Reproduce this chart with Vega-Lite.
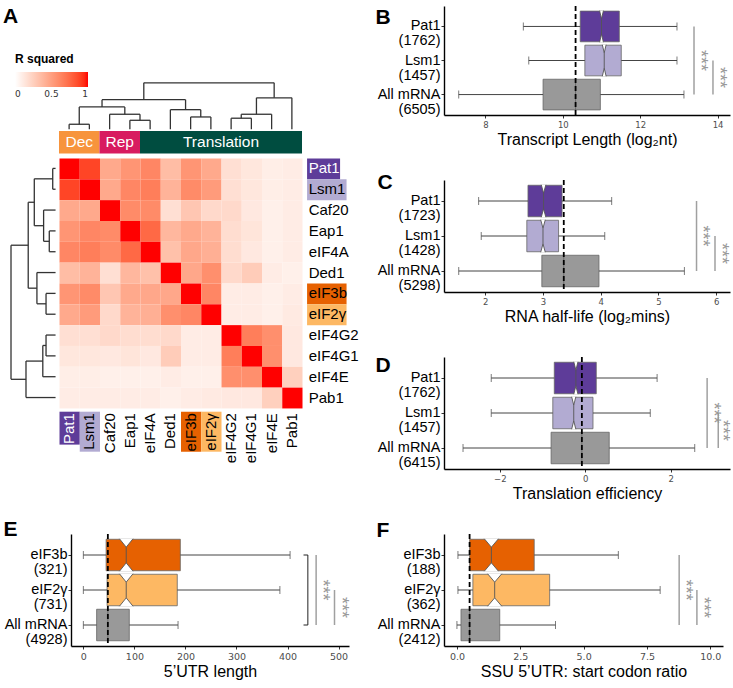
{
"$schema": "https://vega.github.io/schema/vega-lite/v6.json",
"padding": {"left": 2, "top": 5, "right": 3, "bottom": 0},
"config": {
  "font": "Liberation Sans",
  "view": {"stroke": null},
  "axis": {"grid": false, "domainColor": "#000000", "domainWidth": 1.4, "tickColor": "#333333", "tickSize": 3, "tickWidth": 1, "titleFont": "Liberation Sans", "titleFontWeight": "normal", "titleColor": "#000000"},
  "axisX": {"labelFont": "DejaVu Sans", "labelFontSize": 8.5, "labelColor": "#4D4D4D", "titleFontSize": 16, "titlePadding": 3, "labelPadding": 2},
  "axisY": {"labelFont": "Liberation Sans", "labelFontSize": 14.5, "labelColor": "#000000", "labelLineHeight": 15, "labelPadding": 1, "titleFontSize": 21, "titleFontWeight": "bold", "titleAngle": 0, "titleAlign": "left", "titleBaseline": "top"}
},
"datasets": {
  "heat": [
    {"r":0,"c":0,"v":1},{"r":0,"c":1,"v":0.88},{"r":0,"c":2,"v":0.45},{"r":0,"c":3,"v":0.55},{"r":0,"c":4,"v":0.62},{"r":0,"c":5,"v":0.35},{"r":0,"c":6,"v":0.55},{"r":0,"c":7,"v":0.45},{"r":0,"c":8,"v":0.17},{"r":0,"c":9,"v":0.13},{"r":0,"c":10,"v":0.09},{"r":0,"c":11,"v":0.1},
    {"r":1,"c":0,"v":0.88},{"r":1,"c":1,"v":1},{"r":1,"c":2,"v":0.45},{"r":1,"c":3,"v":0.62},{"r":1,"c":4,"v":0.66},{"r":1,"c":5,"v":0.4},{"r":1,"c":6,"v":0.6},{"r":1,"c":7,"v":0.52},{"r":1,"c":8,"v":0.17},{"r":1,"c":9,"v":0.13},{"r":1,"c":10,"v":0.09},{"r":1,"c":11,"v":0.1},
    {"r":2,"c":0,"v":0.45},{"r":2,"c":1,"v":0.45},{"r":2,"c":2,"v":1},{"r":2,"c":3,"v":0.6},{"r":2,"c":4,"v":0.6},{"r":2,"c":5,"v":0.17},{"r":2,"c":6,"v":0.3},{"r":2,"c":7,"v":0.2},{"r":2,"c":8,"v":0.2},{"r":2,"c":9,"v":0.12},{"r":2,"c":10,"v":0.08},{"r":2,"c":11,"v":0.1},
    {"r":3,"c":0,"v":0.55},{"r":3,"c":1,"v":0.62},{"r":3,"c":2,"v":0.6},{"r":3,"c":3,"v":1},{"r":3,"c":4,"v":0.75},{"r":3,"c":5,"v":0.38},{"r":3,"c":6,"v":0.45},{"r":3,"c":7,"v":0.4},{"r":3,"c":8,"v":0.18},{"r":3,"c":9,"v":0.14},{"r":3,"c":10,"v":0.08},{"r":3,"c":11,"v":0.1},
    {"r":4,"c":0,"v":0.62},{"r":4,"c":1,"v":0.66},{"r":4,"c":2,"v":0.6},{"r":4,"c":3,"v":0.75},{"r":4,"c":4,"v":1},{"r":4,"c":5,"v":0.33},{"r":4,"c":6,"v":0.46},{"r":4,"c":7,"v":0.42},{"r":4,"c":8,"v":0.18},{"r":4,"c":9,"v":0.12},{"r":4,"c":10,"v":0.08},{"r":4,"c":11,"v":0.1},
    {"r":5,"c":0,"v":0.35},{"r":5,"c":1,"v":0.4},{"r":5,"c":2,"v":0.17},{"r":5,"c":3,"v":0.38},{"r":5,"c":4,"v":0.33},{"r":5,"c":5,"v":1},{"r":5,"c":6,"v":0.46},{"r":5,"c":7,"v":0.58},{"r":5,"c":8,"v":0.2},{"r":5,"c":9,"v":0.27},{"r":5,"c":10,"v":0.1},{"r":5,"c":11,"v":0.08},
    {"r":6,"c":0,"v":0.55},{"r":6,"c":1,"v":0.6},{"r":6,"c":2,"v":0.3},{"r":6,"c":3,"v":0.45},{"r":6,"c":4,"v":0.46},{"r":6,"c":5,"v":0.46},{"r":6,"c":6,"v":1},{"r":6,"c":7,"v":0.62},{"r":6,"c":8,"v":0.1},{"r":6,"c":9,"v":0.1},{"r":6,"c":10,"v":0.08},{"r":6,"c":11,"v":0.1},
    {"r":7,"c":0,"v":0.45},{"r":7,"c":1,"v":0.52},{"r":7,"c":2,"v":0.2},{"r":7,"c":3,"v":0.4},{"r":7,"c":4,"v":0.42},{"r":7,"c":5,"v":0.58},{"r":7,"c":6,"v":0.62},{"r":7,"c":7,"v":1},{"r":7,"c":8,"v":0.1},{"r":7,"c":9,"v":0.1},{"r":7,"c":10,"v":0.08},{"r":7,"c":11,"v":0.11},
    {"r":8,"c":0,"v":0.17},{"r":8,"c":1,"v":0.17},{"r":8,"c":2,"v":0.2},{"r":8,"c":3,"v":0.18},{"r":8,"c":4,"v":0.18},{"r":8,"c":5,"v":0.2},{"r":8,"c":6,"v":0.1},{"r":8,"c":7,"v":0.1},{"r":8,"c":8,"v":1},{"r":8,"c":9,"v":0.66},{"r":8,"c":10,"v":0.58},{"r":8,"c":11,"v":0.12},
    {"r":9,"c":0,"v":0.13},{"r":9,"c":1,"v":0.13},{"r":9,"c":2,"v":0.12},{"r":9,"c":3,"v":0.14},{"r":9,"c":4,"v":0.12},{"r":9,"c":5,"v":0.27},{"r":9,"c":6,"v":0.1},{"r":9,"c":7,"v":0.1},{"r":9,"c":8,"v":0.66},{"r":9,"c":9,"v":1},{"r":9,"c":10,"v":0.58},{"r":9,"c":11,"v":0.12},
    {"r":10,"c":0,"v":0.09},{"r":10,"c":1,"v":0.09},{"r":10,"c":2,"v":0.08},{"r":10,"c":3,"v":0.08},{"r":10,"c":4,"v":0.08},{"r":10,"c":5,"v":0.1},{"r":10,"c":6,"v":0.08},{"r":10,"c":7,"v":0.08},{"r":10,"c":8,"v":0.58},{"r":10,"c":9,"v":0.58},{"r":10,"c":10,"v":1},{"r":10,"c":11,"v":0.25},
    {"r":11,"c":0,"v":0.1},{"r":11,"c":1,"v":0.1},{"r":11,"c":2,"v":0.1},{"r":11,"c":3,"v":0.1},{"r":11,"c":4,"v":0.1},{"r":11,"c":5,"v":0.08},{"r":11,"c":6,"v":0.1},{"r":11,"c":7,"v":0.11},{"r":11,"c":8,"v":0.12},{"r":11,"c":9,"v":0.12},{"r":11,"c":10,"v":0.25},{"r":11,"c":11,"v":1}
  ],
  "labs": [
    {"name":"Pat1","i":0,"pos":0.5},{"name":"Lsm1","i":1,"pos":1.5},{"name":"Caf20","i":2,"pos":2.5},{"name":"Eap1","i":3,"pos":3.5},{"name":"eIF4A","i":4,"pos":4.5},{"name":"Ded1","i":5,"pos":5.5},{"name":"eIF3b","i":6,"pos":6.5},{"name":"eIF2γ","i":7,"pos":7.5},{"name":"eIF4G2","i":8,"pos":8.5},{"name":"eIF4G1","i":9,"pos":9.5},{"name":"eIF4E","i":10,"pos":10.5},{"name":"Pab1","i":11,"pos":11.5}
  ],
  "annot": [
    {"name":"Dec","start":0,"end":2,"mid":1},{"name":"Rep","start":2,"end":4,"mid":3},{"name":"Translation","start":4,"end":12,"mid":8}
  ],
  "dendro": [
    {"x":-0.31,"x2":-0.31,"y":0.5,"y2":1.5},{"x":-0.17,"x2":-0.31,"y":0.5,"y2":0.5},{"x":-0.17,"x2":-0.31,"y":1.5,"y2":1.5},
    {"x":-0.48,"x2":-0.48,"y":3.5,"y2":4.5},{"x":-0.17,"x2":-0.48,"y":3.5,"y2":3.5},{"x":-0.17,"x2":-0.48,"y":4.5,"y2":4.5},
    {"x":-0.76,"x2":-0.76,"y":2.5,"y2":4.0},{"x":-0.17,"x2":-0.76,"y":2.5,"y2":2.5},{"x":-0.48,"x2":-0.76,"y":4.0,"y2":4.0},
    {"x":-1.22,"x2":-1.22,"y":1.0,"y2":3.25},{"x":-0.31,"x2":-1.22,"y":1.0,"y2":1.0},{"x":-0.76,"x2":-1.22,"y":3.25,"y2":3.25},
    {"x":-0.64,"x2":-0.64,"y":6.5,"y2":7.5},{"x":-0.17,"x2":-0.64,"y":6.5,"y2":6.5},{"x":-0.17,"x2":-0.64,"y":7.5,"y2":7.5},
    {"x":-1.09,"x2":-1.09,"y":5.5,"y2":7.0},{"x":-0.17,"x2":-1.09,"y":5.5,"y2":5.5},{"x":-0.64,"x2":-1.09,"y":7.0,"y2":7.0},
    {"x":-1.52,"x2":-1.52,"y":2.125,"y2":6.25},{"x":-1.22,"x2":-1.52,"y":2.125,"y2":2.125},{"x":-1.09,"x2":-1.52,"y":6.25,"y2":6.25},
    {"x":-0.64,"x2":-0.64,"y":8.5,"y2":9.5},{"x":-0.17,"x2":-0.64,"y":8.5,"y2":8.5},{"x":-0.17,"x2":-0.64,"y":9.5,"y2":9.5},
    {"x":-0.8,"x2":-0.8,"y":9.0,"y2":10.5},{"x":-0.64,"x2":-0.8,"y":9.0,"y2":9.0},{"x":-0.17,"x2":-0.8,"y":10.5,"y2":10.5},
    {"x":-1.63,"x2":-1.63,"y":9.75,"y2":11.5},{"x":-0.8,"x2":-1.63,"y":9.75,"y2":9.75},{"x":-0.17,"x2":-1.63,"y":11.5,"y2":11.5},
    {"x":-2.37,"x2":-2.37,"y":4.1875,"y2":10.625},{"x":-1.52,"x2":-2.37,"y":4.1875,"y2":4.1875},{"x":-1.63,"x2":-2.37,"y":10.625,"y2":10.625},
    {"x":0.5,"x2":1.5,"y":-1.62,"y2":-1.62},{"x":0.5,"x2":0.5,"y":-1.38,"y2":-1.62},{"x":1.5,"x2":1.5,"y":-1.38,"y2":-1.62},
    {"x":3.5,"x2":4.5,"y":-1.81,"y2":-1.81},{"x":3.5,"x2":3.5,"y":-1.38,"y2":-1.81},{"x":4.5,"x2":4.5,"y":-1.38,"y2":-1.81},
    {"x":2.5,"x2":4.0,"y":-2.1,"y2":-2.1},{"x":2.5,"x2":2.5,"y":-1.38,"y2":-2.1},{"x":4.0,"x2":4.0,"y":-1.81,"y2":-2.1},
    {"x":1.0,"x2":3.25,"y":-2.45,"y2":-2.45},{"x":1.0,"x2":1.0,"y":-1.62,"y2":-2.45},{"x":3.25,"x2":3.25,"y":-2.1,"y2":-2.45},
    {"x":6.5,"x2":7.5,"y":-1.97,"y2":-1.97},{"x":6.5,"x2":6.5,"y":-1.38,"y2":-1.97},{"x":7.5,"x2":7.5,"y":-1.38,"y2":-1.97},
    {"x":5.5,"x2":7.0,"y":-2.32,"y2":-2.32},{"x":5.5,"x2":5.5,"y":-1.38,"y2":-2.32},{"x":7.0,"x2":7.0,"y":-1.97,"y2":-2.32},
    {"x":2.125,"x2":6.25,"y":-2.8,"y2":-2.8},{"x":2.125,"x2":2.125,"y":-2.45,"y2":-2.8},{"x":6.25,"x2":6.25,"y":-2.32,"y2":-2.8},
    {"x":8.5,"x2":9.5,"y":-1.91,"y2":-1.91},{"x":8.5,"x2":8.5,"y":-1.38,"y2":-1.91},{"x":9.5,"x2":9.5,"y":-1.38,"y2":-1.91},
    {"x":9.0,"x2":10.5,"y":-2.1,"y2":-2.1},{"x":9.0,"x2":9.0,"y":-1.91,"y2":-2.1},{"x":10.5,"x2":10.5,"y":-1.38,"y2":-2.1},
    {"x":9.75,"x2":11.5,"y":-2.89,"y2":-2.89},{"x":9.75,"x2":9.75,"y":-2.1,"y2":-2.89},{"x":11.5,"x2":11.5,"y":-1.38,"y2":-2.89},
    {"x":4.1875,"x2":10.625,"y":-3.61,"y2":-3.61},{"x":4.1875,"x2":4.1875,"y":-2.8,"y2":-3.61},{"x":10.625,"x2":10.625,"y":-2.89,"y2":-3.61}
  ],
  "statsB": [
    {"grp":"Pat1","wl":8.98,"q1":10.45,"m":11.0,"q3":11.46,"wh":12.95},
    {"grp":"Lsm1","wl":9.12,"q1":10.57,"m":11.07,"q3":11.51,"wh":12.95},
    {"grp":"All mRNA","wl":7.31,"q1":9.49,"m":10.33,"q3":10.97,"wh":13.13}
  ],
  "sigB": [{"from":"Pat1","to":"All mRNA","x":13.39},{"from":"Lsm1","to":"All mRNA","x":13.88}],
  "statsC": [
    {"grp":"Pat1","wl":1.885,"q1":2.74,"m":3.01,"q3":3.33,"wh":4.19},
    {"grp":"Lsm1","wl":1.93,"q1":2.72,"m":3.0,"q3":3.27,"wh":4.07},
    {"grp":"All mRNA","wl":1.54,"q1":2.98,"m":3.36,"q3":3.97,"wh":5.45}
  ],
  "sigC": [{"from":"Pat1","to":"All mRNA","x":5.66},{"from":"Lsm1","to":"All mRNA","x":5.98}],
  "statsD": [
    {"grp":"Pat1","wl":-2.2,"q1":-0.725,"m":-0.22,"q3":0.257,"wh":1.68},
    {"grp":"Lsm1","wl":-2.2,"q1":-0.76,"m":-0.27,"q3":0.18,"wh":1.52},
    {"grp":"All mRNA","wl":-2.86,"q1":-0.8,"m":-0.08,"q3":0.56,"wh":2.56}
  ],
  "sigD": [{"from":"Pat1","to":"All mRNA","x":2.85},{"from":"Lsm1","to":"All mRNA","x":3.11}],
  "statsE": [
    {"grp":"eIF3b","wl":0,"q1":44.6,"m":84,"q3":190,"wh":405},
    {"grp":"eIF2γ","wl":0,"q1":46.5,"m":84,"q3":184,"wh":385},
    {"grp":"All mRNA","wl":0,"q1":26,"m":48,"q3":90,"wh":185.5}
  ],
  "sigE": [{"from":"eIF3b","to":"All mRNA","x":456},{"from":"eIF2γ","to":"All mRNA","x":492}],
  "statsF": [
    {"grp":"eIF3b","wl":0.04,"q1":0.5,"m":1.36,"q3":3.05,"wh":6.37},
    {"grp":"eIF2γ","wl":0.04,"q1":0.63,"m":1.49,"q3":3.66,"wh":8.02},
    {"grp":"All mRNA","wl":0.0,"q1":0.16,"m":0.5,"q3":1.69,"wh":3.89}
  ],
  "sigF": [{"from":"eIF3b","to":"All mRNA","x":8.77},{"from":"eIF2γ","to":"All mRNA","x":9.47}]
},
"spacing": 16,
"bounds": "full",
"resolve": {"scale": {"color": "independent", "fill": "independent"}},
"hconcat": [
 {
  "resolve": {"scale": {"color": "independent", "fill": "independent"}},
  "vconcat": [
   {
    "width": 287, "height": 488,
    "layer": [
     {"data": {"name": "heat"}, "mark": {"type": "rect"},
      "encoding": {
       "x": {"field": "c", "type": "quantitative", "bin": {"binned": true, "step": 1}, "scale": {"domain": [0.5926, 14.765], "nice": false, "zero": false}, "axis": null},
       "y": {"field": "r", "type": "quantitative", "bin": {"binned": true, "step": 1}, "scale": {"domain": [-7.297, 16.131], "nice": false, "zero": false, "reverse": true}, "axis": null},
       "color": {"field": "v", "type": "quantitative", "scale": {"domain": [0, 1], "range": ["#FFFFFF", "#FF0000"], "interpolate": "lab"},
         "legend": {"title": "R squared", "orient": "none", "legendX": -56, "legendY": 48, "direction": "horizontal", "gradientLength": 73, "gradientThickness": 15, "gradientStrokeWidth": 0, "values": [0, 0.5, 1], "format": ".1~f", "titleFont": "Liberation Sans", "titleFontSize": 12, "titleFontWeight": "bold", "titleColor": "#000000", "titlePadding": 6, "labelFont": "DejaVu Sans", "labelFontSize": 9, "labelColor": "#333333", "labelOffset": 3}}
      }},
     {"data": {"name": "annot"}, "mark": {"type": "rect"},
      "encoding": {
       "x": {"field": "start", "type": "quantitative", "scale": {"domain": [0.5926, 14.765], "nice": false, "zero": false}, "axis": null},
       "x2": {"field": "end"},
       "y": {"datum": -1.3, "type": "quantitative", "scale": {"domain": [-7.297, 16.131], "nice": false, "zero": false, "reverse": true}, "axis": null},
       "y2": {"datum": -0.21},
       "fill": {"field": "name", "type": "nominal", "scale": {"domain": ["Dec","Rep","Translation","Pat1","Lsm1","eIF3b","eIF2γ"], "range": ["#F7943D","#D81B60","#004D40","#5E3C99","#B2ABD2","#E66101","#FDB863"]}, "legend": null}
      }},
     {"data": {"name": "annot"}, "mark": {"type": "text", "color": "#FFFFFF", "fontSize": 15.5, "align": "center", "baseline": "middle"},
      "encoding": {
       "x": {"field": "mid", "type": "quantitative", "scale": {"domain": [0.5926, 14.765], "nice": false, "zero": false}, "axis": null},
       "y": {"datum": -0.75, "type": "quantitative", "scale": {"domain": [-7.297, 16.131], "nice": false, "zero": false, "reverse": true}, "axis": null},
       "text": {"field": "name"}
      }},
     {"data": {"name": "dendro"}, "mark": {"type": "rule", "color": "#333333", "strokeWidth": 1.3},
      "encoding": {
       "x": {"field": "x", "type": "quantitative", "scale": {"domain": [0.5926, 14.765], "nice": false, "zero": false}, "axis": null},
       "x2": {"field": "x2"},
       "y": {"field": "y", "type": "quantitative", "scale": {"domain": [-7.297, 16.131], "nice": false, "zero": false, "reverse": true}, "axis": null},
       "y2": {"field": "y2"}
      }},
     {"data": {"name": "labs"}, "transform": [{"filter": "datum.name == 'Pat1'"}], "mark": {"type": "rect"},
      "encoding": {
       "x": {"datum": 12.25, "type": "quantitative", "scale": {"domain": [0.5926, 14.765], "nice": false, "zero": false}, "axis": null},
       "x2": {"datum": 13.88},
       "y": {"field": "i", "type": "quantitative", "bin": {"binned": true, "step": 1}, "scale": {"domain": [-7.297, 16.131], "nice": false, "zero": false, "reverse": true}, "axis": null},
       "fill": {"field": "name", "type": "nominal", "scale": {"domain": ["Dec","Rep","Translation","Pat1","Lsm1","eIF3b","eIF2γ"], "range": ["#F7943D","#D81B60","#004D40","#5E3C99","#B2ABD2","#E66101","#FDB863"]}, "legend": null}
      }},
     {"data": {"name": "labs"}, "transform": [{"filter": "datum.name == 'Lsm1' || datum.name == 'eIF3b' || datum.name == 'eIF2γ'"}], "mark": {"type": "rect"},
      "encoding": {
       "x": {"datum": 12.25, "type": "quantitative", "scale": {"domain": [0.5926, 14.765], "nice": false, "zero": false}, "axis": null},
       "x2": {"datum": 14.2},
       "y": {"field": "i", "type": "quantitative", "bin": {"binned": true, "step": 1}, "scale": {"domain": [-7.297, 16.131], "nice": false, "zero": false, "reverse": true}, "axis": null},
       "fill": {"field": "name", "type": "nominal", "scale": {"domain": ["Dec","Rep","Translation","Pat1","Lsm1","eIF3b","eIF2γ"], "range": ["#F7943D","#D81B60","#004D40","#5E3C99","#B2ABD2","#E66101","#FDB863"]}, "legend": null}
      }},
     {"data": {"name": "labs"}, "transform": [{"filter": "datum.name == 'Pat1'"}], "mark": {"type": "rect"},
      "encoding": {
       "x": {"field": "i", "type": "quantitative", "bin": {"binned": true, "step": 1}, "scale": {"domain": [0.5926, 14.765], "nice": false, "zero": false}, "axis": null},
       "y": {"datum": 12.18, "type": "quantitative", "scale": {"domain": [-7.297, 16.131], "nice": false, "zero": false, "reverse": true}, "axis": null},
       "y2": {"datum": 13.76},
       "fill": {"field": "name", "type": "nominal", "scale": {"domain": ["Dec","Rep","Translation","Pat1","Lsm1","eIF3b","eIF2γ"], "range": ["#F7943D","#D81B60","#004D40","#5E3C99","#B2ABD2","#E66101","#FDB863"]}, "legend": null}
      }},
     {"data": {"name": "labs"}, "transform": [{"filter": "datum.name == 'Lsm1' || datum.name == 'eIF3b' || datum.name == 'eIF2γ'"}], "mark": {"type": "rect"},
      "encoding": {
       "x": {"field": "i", "type": "quantitative", "bin": {"binned": true, "step": 1}, "scale": {"domain": [0.5926, 14.765], "nice": false, "zero": false}, "axis": null},
       "y": {"datum": 12.18, "type": "quantitative", "scale": {"domain": [-7.297, 16.131], "nice": false, "zero": false, "reverse": true}, "axis": null},
       "y2": {"datum": 14.1},
       "fill": {"field": "name", "type": "nominal", "scale": {"domain": ["Dec","Rep","Translation","Pat1","Lsm1","eIF3b","eIF2γ"], "range": ["#F7943D","#D81B60","#004D40","#5E3C99","#B2ABD2","#E66101","#FDB863"]}, "legend": null}
      }},
     {"data": {"name": "labs"}, "mark": {"type": "text", "fontSize": 15, "align": "left", "baseline": "middle"},
      "encoding": {
       "x": {"datum": 12.33, "type": "quantitative", "scale": {"domain": [0.5926, 14.765], "nice": false, "zero": false}, "axis": null},
       "y": {"field": "pos", "type": "quantitative", "scale": {"domain": [-7.297, 16.131], "nice": false, "zero": false, "reverse": true}, "axis": null},
       "text": {"field": "name"},
       "color": {"condition": {"test": "datum.name == 'Pat1'", "value": "#FFFFFF"}, "value": "#000000"}
      }},
     {"data": {"name": "labs"}, "mark": {"type": "text", "fontSize": 15, "align": "right", "baseline": "middle", "angle": 270},
      "encoding": {
       "x": {"field": "pos", "type": "quantitative", "scale": {"domain": [0.5926, 14.765], "nice": false, "zero": false}, "axis": null},
       "y": {"datum": 12.25, "type": "quantitative", "scale": {"domain": [-7.297, 16.131], "nice": false, "zero": false, "reverse": true}, "axis": null},
       "text": {"field": "name"},
       "color": {"condition": {"test": "datum.name == 'Pat1'", "value": "#FFFFFF"}, "value": "#000000"}
      }},
     {"data": {"values": [{}]}, "mark": {"type": "text", "text": "A", "fontSize": 21, "fontWeight": "bold", "align": "left", "baseline": "top", "color": "#000000"},
      "encoding": {
       "x": {"datum": -2.77, "type": "quantitative", "scale": {"domain": [0.5926, 14.765], "nice": false, "zero": false}, "axis": null},
       "y": {"datum": -7.297, "type": "quantitative", "scale": {"domain": [-7.297, 16.131], "nice": false, "zero": false, "reverse": true}, "axis": null}
      }}
    ]
   },
   {
    "width": 278, "height": 112,
    "data": {"name": "statsE"},
    "layer": [
     {"mark": {"type": "bar", "height": {"band": 0.9}, "stroke": "#666666", "strokeWidth": 0.8},
      "encoding": {
       "y": {"field": "grp", "type": "nominal", "scale": {"domain": ["eIF3b","eIF2γ","All mRNA"], "paddingInner": 0, "paddingOuter": 0.1},
             "axis": {"title": "E", "titleX": -68, "titleY": -16, "labelExpr": "datum.value == 'eIF3b' ? ['eIF3b', '(321)'] : datum.value == 'eIF2γ' ? ['eIF2γ', '(731)'] : ['All mRNA', '(4928)']"}},
       "x": {"field": "q1", "type": "quantitative", "scale": {"domain": [-24.2, 520.4], "nice": false, "zero": false}, "axis": {"title": "5’UTR length", "values": [0, 100, 200, 300, 400, 500], "labelFontSize": 9.5}},
       "x2": {"field": "q3"},
       "color": {"field": "grp", "type": "nominal", "scale": {"domain": ["eIF3b","eIF2γ","All mRNA"], "range": ["#E66101","#FDB863","#999999"]}, "legend": null}
      }},
     {"mark": {"type": "rule", "color": "#444444", "strokeWidth": 1}, "encoding": {"y": {"field": "grp", "type": "nominal"}, "x": {"field": "wl", "type": "quantitative"}, "x2": {"field": "q1"}}},
     {"mark": {"type": "rule", "color": "#444444", "strokeWidth": 1}, "encoding": {"y": {"field": "grp", "type": "nominal"}, "x": {"field": "q3", "type": "quantitative"}, "x2": {"field": "wh"}}},
     {"mark": {"type": "tick", "orient": "vertical", "size": 8, "thickness": 1, "color": "#444444"}, "encoding": {"y": {"field": "grp", "type": "nominal"}, "x": {"field": "wl", "type": "quantitative"}}},
     {"mark": {"type": "tick", "orient": "vertical", "size": 8, "thickness": 1, "color": "#444444"}, "encoding": {"y": {"field": "grp", "type": "nominal"}, "x": {"field": "wh", "type": "quantitative"}}},
     {"transform": [{"filter": "datum.grp != 'All mRNA'"}],
      "mark": {"type": "point", "shape": "M-0.43,-1.03L0,-0.5L0.43,-1.03M-0.43,1.03L0,0.5L0.43,1.03M0,-0.5L0,0.5", "size": 992, "filled": true, "fill": "#FFFFFF", "stroke": "#555555", "strokeWidth": 0.9, "opacity": 1},
      "encoding": {"y": {"field": "grp", "type": "nominal"}, "x": {"field": "m", "type": "quantitative"}}},
     {"transform": [{"filter": "datum.grp == 'All mRNA'"}], "mark": {"type": "tick", "orient": "vertical", "size": 31.5, "thickness": 1, "color": "#555555"}, "encoding": {"y": {"field": "grp", "type": "nominal"}, "x": {"field": "m", "type": "quantitative"}}},
     {"data": {"name": "sigE"}, "mark": {"type": "rule", "color": "#A0A0A0", "strokeWidth": 1.5}, "encoding": {"x": {"field": "x", "type": "quantitative"}, "y": {"field": "from", "type": "nominal"}, "y2": {"field": "to"}}},
     {"data": {"values": [{}]}, "mark": {"type": "rule", "color": "#222222", "strokeWidth": 1}, "encoding": {"x": {"datum": 439.8, "type": "quantitative"}, "y": {"datum": "eIF3b", "type": "nominal"}, "y2": {"datum": "All mRNA"}}},
     {"data": {"values": [{}]}, "mark": {"type": "rule", "color": "#222222", "strokeWidth": 1}, "encoding": {"x": {"datum": 431.3, "type": "quantitative"}, "x2": {"datum": 439.8}, "y": {"datum": "eIF3b", "type": "nominal"}}},
     {"data": {"values": [{}]}, "mark": {"type": "rule", "color": "#222222", "strokeWidth": 1}, "encoding": {"x": {"datum": 431.3, "type": "quantitative"}, "x2": {"datum": 439.8}, "y": {"datum": "All mRNA", "type": "nominal"}}},
     {"data": {"values": [{}]}, "mark": {"type": "text", "text": "***", "angle": 90, "fontSize": 18, "color": "#999999", "align": "center", "baseline": "middle"}, "encoding": {"x": {"datum": 468, "type": "quantitative"}, "y": {"datum": "eIF2γ", "type": "nominal"}}},
     {"data": {"values": [{}]}, "mark": {"type": "text", "text": "***", "angle": 90, "fontSize": 18, "color": "#999999", "align": "center", "baseline": "middle"}, "encoding": {"x": {"datum": 504, "type": "quantitative"}, "y": {"datum": "All mRNA", "type": "nominal", "bandPosition": 0}}},
     {"transform": [{"filter": "datum.grp == 'All mRNA'"}], "mark": {"type": "rule", "color": "#000000", "strokeWidth": 1.8, "strokeDash": [5, 3]}, "encoding": {"x": {"field": "m", "type": "quantitative"}}}
    ]
   }
  ],
  "spacing": 40,
  "bounds": "flush"
 },
 {
  "resolve": {"scale": {"color": "independent", "fill": "independent"}},
  "vconcat": [
   {
    "width": 286, "height": 109,
    "data": {"name": "statsB"},
    "layer": [
     {"mark": {"type": "bar", "height": {"band": 0.9}, "stroke": "#666666", "strokeWidth": 0.8},
      "encoding": {
       "y": {"field": "grp", "type": "nominal", "scale": {"domain": ["Pat1","Lsm1","All mRNA"], "paddingInner": 0, "paddingOuter": 0.1},
             "axis": {"title": "B", "titleX": -69, "titleY": 0, "labelExpr": "datum.value == 'Pat1' ? ['Pat1', '(1762)'] : datum.value == 'Lsm1' ? ['Lsm1', '(1457)'] : ['All mRNA', '(6505)']"}},
       "x": {"field": "q1", "type": "quantitative", "scale": {"domain": [6.93, 14.32], "nice": false, "zero": false}, "axis": {"title": "Transcript Length (log₂nt)", "values": [8, 10, 12, 14]}},
       "x2": {"field": "q3"},
       "color": {"field": "grp", "type": "nominal", "scale": {"domain": ["Pat1","Lsm1","All mRNA"], "range": ["#5E3C99","#B2ABD2","#999999"]}, "legend": null}
      }},
     {"mark": {"type": "rule", "color": "#444444", "strokeWidth": 1}, "encoding": {"y": {"field": "grp", "type": "nominal"}, "x": {"field": "wl", "type": "quantitative"}, "x2": {"field": "q1"}}},
     {"mark": {"type": "rule", "color": "#444444", "strokeWidth": 1}, "encoding": {"y": {"field": "grp", "type": "nominal"}, "x": {"field": "q3", "type": "quantitative"}, "x2": {"field": "wh"}}},
     {"mark": {"type": "tick", "orient": "vertical", "size": 8, "thickness": 1, "color": "#444444"}, "encoding": {"y": {"field": "grp", "type": "nominal"}, "x": {"field": "wl", "type": "quantitative"}}},
     {"mark": {"type": "tick", "orient": "vertical", "size": 8, "thickness": 1, "color": "#444444"}, "encoding": {"y": {"field": "grp", "type": "nominal"}, "x": {"field": "wh", "type": "quantitative"}}},
     {"transform": [{"filter": "datum.grp != 'All mRNA'"}],
      "mark": {"type": "point", "shape": "M-0.125,-1.03L0,-0.5L0.125,-1.03M-0.125,1.03L0,0.5L0.125,1.03M0,-0.5L0,0.5", "size": 940, "filled": true, "fill": "#FFFFFF", "stroke": "#555555", "strokeWidth": 0.9, "opacity": 1},
      "encoding": {"y": {"field": "grp", "type": "nominal"}, "x": {"field": "m", "type": "quantitative"}}},
     {"transform": [{"filter": "datum.grp == 'All mRNA'"}], "mark": {"type": "tick", "orient": "vertical", "size": 30.7, "thickness": 1, "color": "#555555"}, "encoding": {"y": {"field": "grp", "type": "nominal"}, "x": {"field": "m", "type": "quantitative"}}},
     {"data": {"name": "sigB"}, "mark": {"type": "rule", "color": "#A0A0A0", "strokeWidth": 1.5}, "encoding": {"x": {"field": "x", "type": "quantitative"}, "y": {"field": "from", "type": "nominal"}, "y2": {"field": "to"}}},
     {"data": {"values": [{}]}, "mark": {"type": "text", "text": "***", "angle": 90, "fontSize": 18, "color": "#999999", "align": "center", "baseline": "middle"}, "encoding": {"x": {"datum": 13.55, "type": "quantitative"}, "y": {"datum": "Lsm1", "type": "nominal"}}},
     {"data": {"values": [{}]}, "mark": {"type": "text", "text": "***", "angle": 90, "fontSize": 18, "color": "#999999", "align": "center", "baseline": "middle"}, "encoding": {"x": {"datum": 14.04, "type": "quantitative"}, "y": {"datum": "All mRNA", "type": "nominal", "bandPosition": 0}}},
     {"transform": [{"filter": "datum.grp == 'All mRNA'"}], "mark": {"type": "rule", "color": "#000000", "strokeWidth": 1.8, "strokeDash": [5, 3]}, "encoding": {"x": {"field": "m", "type": "quantitative"}}}
    ]
   },
   {
    "width": 286, "height": 112,
    "data": {"name": "statsC"},
    "layer": [
     {"mark": {"type": "bar", "height": {"band": 0.9}, "stroke": "#666666", "strokeWidth": 0.8},
      "encoding": {
       "y": {"field": "grp", "type": "nominal", "scale": {"domain": ["Pat1","Lsm1","All mRNA"], "paddingInner": 0, "paddingOuter": 0.1},
             "axis": {"title": "C", "titleX": -67, "titleY": -9, "labelExpr": "datum.value == 'Pat1' ? ['Pat1', '(1723)'] : datum.value == 'Lsm1' ? ['Lsm1', '(1428)'] : ['All mRNA', '(5298)']"}},
       "x": {"field": "q1", "type": "quantitative", "scale": {"domain": [1.285, 6.24], "nice": false, "zero": false}, "axis": {"title": "RNA half-life (log₂mins)", "values": [2, 3, 4, 5, 6], "format": "d"}},
       "x2": {"field": "q3"},
       "color": {"field": "grp", "type": "nominal", "scale": {"domain": ["Pat1","Lsm1","All mRNA"], "range": ["#5E3C99","#B2ABD2","#999999"]}, "legend": null}
      }},
     {"mark": {"type": "rule", "color": "#444444", "strokeWidth": 1}, "encoding": {"y": {"field": "grp", "type": "nominal"}, "x": {"field": "wl", "type": "quantitative"}, "x2": {"field": "q1"}}},
     {"mark": {"type": "rule", "color": "#444444", "strokeWidth": 1}, "encoding": {"y": {"field": "grp", "type": "nominal"}, "x": {"field": "q3", "type": "quantitative"}, "x2": {"field": "wh"}}},
     {"mark": {"type": "tick", "orient": "vertical", "size": 8, "thickness": 1, "color": "#444444"}, "encoding": {"y": {"field": "grp", "type": "nominal"}, "x": {"field": "wl", "type": "quantitative"}}},
     {"mark": {"type": "tick", "orient": "vertical", "size": 8, "thickness": 1, "color": "#444444"}, "encoding": {"y": {"field": "grp", "type": "nominal"}, "x": {"field": "wh", "type": "quantitative"}}},
     {"transform": [{"filter": "datum.grp != 'All mRNA'"}],
      "mark": {"type": "point", "shape": "M-0.146,-1.03L0,-0.5L0.146,-1.03M-0.146,1.03L0,0.5L0.146,1.03M0,-0.5L0,0.5", "size": 992, "filled": true, "fill": "#FFFFFF", "stroke": "#555555", "strokeWidth": 0.9, "opacity": 1},
      "encoding": {"y": {"field": "grp", "type": "nominal"}, "x": {"field": "m", "type": "quantitative"}}},
     {"transform": [{"filter": "datum.grp == 'All mRNA'"}], "mark": {"type": "tick", "orient": "vertical", "size": 31.5, "thickness": 1, "color": "#555555"}, "encoding": {"y": {"field": "grp", "type": "nominal"}, "x": {"field": "m", "type": "quantitative"}}},
     {"data": {"name": "sigC"}, "mark": {"type": "rule", "color": "#A0A0A0", "strokeWidth": 1.5}, "encoding": {"x": {"field": "x", "type": "quantitative"}, "y": {"field": "from", "type": "nominal"}, "y2": {"field": "to"}}},
     {"data": {"values": [{}]}, "mark": {"type": "text", "text": "***", "angle": 90, "fontSize": 18, "color": "#999999", "align": "center", "baseline": "middle"}, "encoding": {"x": {"datum": 5.76, "type": "quantitative"}, "y": {"datum": "Lsm1", "type": "nominal"}}},
     {"data": {"values": [{}]}, "mark": {"type": "text", "text": "***", "angle": 90, "fontSize": 18, "color": "#999999", "align": "center", "baseline": "middle"}, "encoding": {"x": {"datum": 6.08, "type": "quantitative"}, "y": {"datum": "All mRNA", "type": "nominal", "bandPosition": 0}}},
     {"transform": [{"filter": "datum.grp == 'All mRNA'"}], "mark": {"type": "rule", "color": "#000000", "strokeWidth": 1.8, "strokeDash": [5, 3]}, "encoding": {"x": {"field": "m", "type": "quantitative"}}}
    ]
   },
   {
    "width": 286, "height": 112,
    "data": {"name": "statsD"},
    "layer": [
     {"mark": {"type": "bar", "height": {"band": 0.9}, "stroke": "#666666", "strokeWidth": 0.8},
      "encoding": {
       "y": {"field": "grp", "type": "nominal", "scale": {"domain": ["Pat1","Lsm1","All mRNA"], "paddingInner": 0, "paddingOuter": 0.1},
             "axis": {"title": "D", "titleX": -69, "titleY": -3, "labelExpr": "datum.value == 'Pat1' ? ['Pat1', '(1762)'] : datum.value == 'Lsm1' ? ['Lsm1', '(1457)'] : ['All mRNA', '(6415)']"}},
       "x": {"field": "q1", "type": "quantitative", "scale": {"domain": [-3.305, 3.385], "nice": false, "zero": false}, "axis": {"title": "Translation efficiency", "values": [-2, 0, 2]}},
       "x2": {"field": "q3"},
       "color": {"field": "grp", "type": "nominal", "scale": {"domain": ["Pat1","Lsm1","All mRNA"], "range": ["#5E3C99","#B2ABD2","#999999"]}, "legend": null}
      }},
     {"mark": {"type": "rule", "color": "#444444", "strokeWidth": 1}, "encoding": {"y": {"field": "grp", "type": "nominal"}, "x": {"field": "wl", "type": "quantitative"}, "x2": {"field": "q1"}}},
     {"mark": {"type": "rule", "color": "#444444", "strokeWidth": 1}, "encoding": {"y": {"field": "grp", "type": "nominal"}, "x": {"field": "q3", "type": "quantitative"}, "x2": {"field": "wh"}}},
     {"mark": {"type": "tick", "orient": "vertical", "size": 8, "thickness": 1, "color": "#444444"}, "encoding": {"y": {"field": "grp", "type": "nominal"}, "x": {"field": "wl", "type": "quantitative"}}},
     {"mark": {"type": "tick", "orient": "vertical", "size": 8, "thickness": 1, "color": "#444444"}, "encoding": {"y": {"field": "grp", "type": "nominal"}, "x": {"field": "wh", "type": "quantitative"}}},
     {"transform": [{"filter": "datum.grp != 'All mRNA'"}],
      "mark": {"type": "point", "shape": "M-0.133,-1.03L0,-0.5L0.133,-1.03M-0.133,1.03L0,0.5L0.133,1.03M0,-0.5L0,0.5", "size": 992, "filled": true, "fill": "#FFFFFF", "stroke": "#555555", "strokeWidth": 0.9, "opacity": 1},
      "encoding": {"y": {"field": "grp", "type": "nominal"}, "x": {"field": "m", "type": "quantitative"}}},
     {"transform": [{"filter": "datum.grp == 'All mRNA'"}], "mark": {"type": "tick", "orient": "vertical", "size": 31.5, "thickness": 1, "color": "#555555"}, "encoding": {"y": {"field": "grp", "type": "nominal"}, "x": {"field": "m", "type": "quantitative"}}},
     {"data": {"name": "sigD"}, "mark": {"type": "rule", "color": "#A0A0A0", "strokeWidth": 1.5}, "encoding": {"x": {"field": "x", "type": "quantitative"}, "y": {"field": "from", "type": "nominal"}, "y2": {"field": "to"}}},
     {"data": {"values": [{}]}, "mark": {"type": "text", "text": "***", "angle": 90, "fontSize": 18, "color": "#999999", "align": "center", "baseline": "middle"}, "encoding": {"x": {"datum": 2.99, "type": "quantitative"}, "y": {"datum": "Lsm1", "type": "nominal"}}},
     {"data": {"values": [{}]}, "mark": {"type": "text", "text": "***", "angle": 90, "fontSize": 18, "color": "#999999", "align": "center", "baseline": "middle"}, "encoding": {"x": {"datum": 3.19, "type": "quantitative"}, "y": {"datum": "All mRNA", "type": "nominal", "bandPosition": 0}}},
     {"transform": [{"filter": "datum.grp == 'All mRNA'"}], "mark": {"type": "rule", "color": "#000000", "strokeWidth": 1.8, "strokeDash": [5, 3]}, "encoding": {"x": {"field": "m", "type": "quantitative"}}}
    ]
   },
   {
    "width": 279, "height": 112,
    "data": {"name": "statsF"},
    "layer": [
     {"mark": {"type": "bar", "height": {"band": 0.9}, "stroke": "#666666", "strokeWidth": 0.8},
      "encoding": {
       "y": {"field": "grp", "type": "nominal", "scale": {"domain": ["eIF3b","eIF2γ","All mRNA"], "paddingInner": 0, "paddingOuter": 0.1},
             "axis": {"title": "F", "titleX": -68, "titleY": -15, "labelExpr": "datum.value == 'eIF3b' ? ['eIF3b', '(188)'] : datum.value == 'eIF2γ' ? ['eIF2γ', '(362)'] : ['All mRNA', '(2412)']"}},
       "x": {"field": "q1", "type": "quantitative", "scale": {"domain": [-0.51, 10.5], "nice": false, "zero": false}, "axis": {"title": "SSU 5’UTR: start codon ratio", "values": [0, 2.5, 5, 7.5, 10], "format": ".1f", "labelFontSize": 9.5}},
       "x2": {"field": "q3"},
       "color": {"field": "grp", "type": "nominal", "scale": {"domain": ["eIF3b","eIF2γ","All mRNA"], "range": ["#E66101","#FDB863","#999999"]}, "legend": null}
      }},
     {"mark": {"type": "rule", "color": "#444444", "strokeWidth": 1}, "encoding": {"y": {"field": "grp", "type": "nominal"}, "x": {"field": "wl", "type": "quantitative"}, "x2": {"field": "q1"}}},
     {"mark": {"type": "rule", "color": "#444444", "strokeWidth": 1}, "encoding": {"y": {"field": "grp", "type": "nominal"}, "x": {"field": "q3", "type": "quantitative"}, "x2": {"field": "wh"}}},
     {"mark": {"type": "tick", "orient": "vertical", "size": 8, "thickness": 1, "color": "#444444"}, "encoding": {"y": {"field": "grp", "type": "nominal"}, "x": {"field": "wl", "type": "quantitative"}}},
     {"mark": {"type": "tick", "orient": "vertical", "size": 8, "thickness": 1, "color": "#444444"}, "encoding": {"y": {"field": "grp", "type": "nominal"}, "x": {"field": "wh", "type": "quantitative"}}},
     {"transform": [{"filter": "datum.grp != 'All mRNA'"}],
      "mark": {"type": "point", "shape": "M-0.45,-1.03L0,-0.5L0.45,-1.03M-0.45,1.03L0,0.5L0.45,1.03M0,-0.5L0,0.5", "size": 992, "filled": true, "fill": "#FFFFFF", "stroke": "#555555", "strokeWidth": 0.9, "opacity": 1},
      "encoding": {"y": {"field": "grp", "type": "nominal"}, "x": {"field": "m", "type": "quantitative"}}},
     {"transform": [{"filter": "datum.grp == 'All mRNA'"}], "mark": {"type": "tick", "orient": "vertical", "size": 31.5, "thickness": 1, "color": "#555555"}, "encoding": {"y": {"field": "grp", "type": "nominal"}, "x": {"field": "m", "type": "quantitative"}}},
     {"data": {"name": "sigF"}, "mark": {"type": "rule", "color": "#A0A0A0", "strokeWidth": 1.5}, "encoding": {"x": {"field": "x", "type": "quantitative"}, "y": {"field": "from", "type": "nominal"}, "y2": {"field": "to"}}},
     {"data": {"values": [{}]}, "mark": {"type": "text", "text": "***", "angle": 90, "fontSize": 18, "color": "#999999", "align": "center", "baseline": "middle"}, "encoding": {"x": {"datum": 9.01, "type": "quantitative"}, "y": {"datum": "eIF2γ", "type": "nominal"}}},
     {"data": {"values": [{}]}, "mark": {"type": "text", "text": "***", "angle": 90, "fontSize": 18, "color": "#999999", "align": "center", "baseline": "middle"}, "encoding": {"x": {"datum": 9.71, "type": "quantitative"}, "y": {"datum": "All mRNA", "type": "nominal", "bandPosition": 0}}},
     {"transform": [{"filter": "datum.grp == 'All mRNA'"}], "mark": {"type": "rule", "color": "#000000", "strokeWidth": 1.8, "strokeDash": [5, 3]}, "encoding": {"x": {"field": "m", "type": "quantitative"}}}
    ]
   }
  ],
  "spacing": 65,
  "bounds": "flush"
 }
]
}
